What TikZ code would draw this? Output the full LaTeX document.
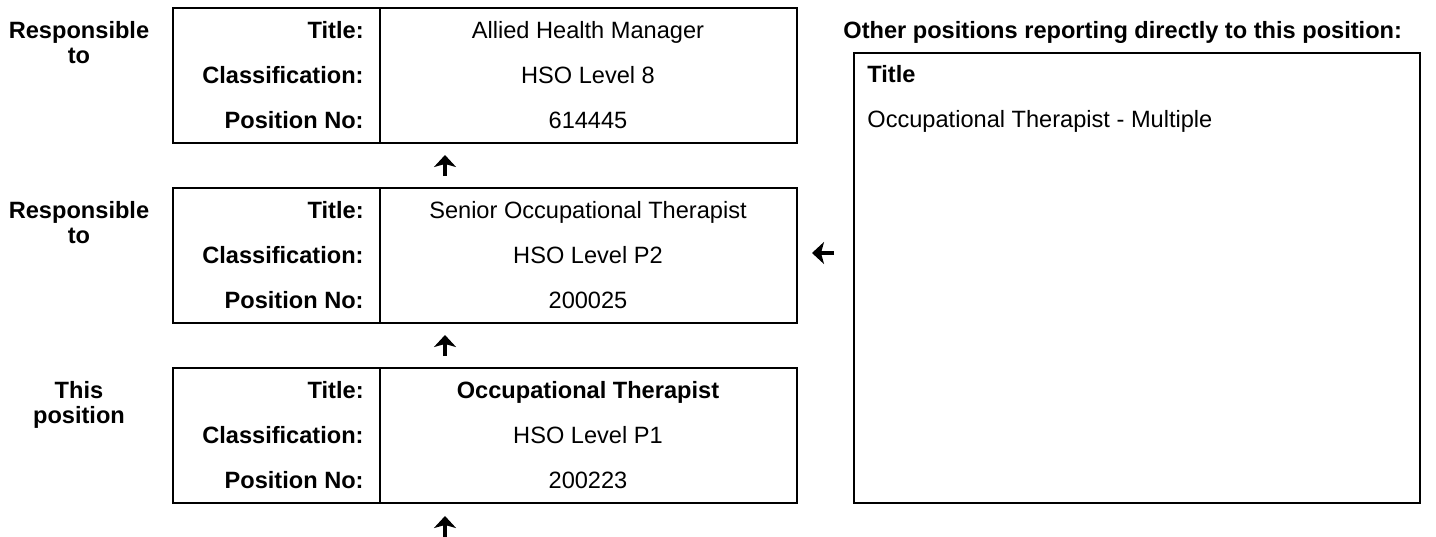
\documentclass[tikz,border=0pt]{standalone}
\usepackage{fontspec}
\setmainfont{Liberation Sans}
\usetikzlibrary{arrows.meta}

\newcommand{\chartfont}{\fontsize{11.8}{12.5}\selectfont}

\tikzset{
  frame/.style={draw, line width=1pt, inner sep=0pt, anchor=north west},
  side/.style={font=\chartfont\bfseries, align=center, anchor=north, inner sep=0pt},
  key/.style={font=\chartfont\bfseries, anchor=base east, inner sep=0pt},
  val/.style={font=\chartfont, anchor=base, inner sep=0pt},
  rptarrow/.style={-{Stealth[length=6pt,width=11pt,inset=1.5pt]}, line width=2.2pt}
}

\begin{document}
\begin{tikzpicture}[x=0.5pt,y=-0.5pt]
    \useasboundingbox (0,0) rectangle (1436,536);

    % Position boxes, one per level
    \foreach \i/\name/\side/\ttl/\cls/\pno in {
        0/mgr/{Responsible\\to}/{Allied Health Manager}/{HSO Level 8}/614445,
        1/senior/{Responsible\\to}/{Senior Occupational Therapist}/{HSO Level P2}/200025,
        2/self/{This\\position}/{\textbf{Occupational Therapist}}/{HSO Level P1}/200223}{
      \pgfmathsetmacro{\top}{7+180*\i}
      % Frame and divider
      \node[frame, minimum width=312pt, minimum height=67.5pt] (\name) at (172,\top) {};
      \draw[line width=1pt] ([xshift=104pt]\name.north west) -- ([xshift=104pt]\name.south west);
      % Text Node
      \node[side] (\name-side) at (79,\top+14) {\side};
      \node[key] (\name-tkey) at (364,\top+31) {Title:};
      \node[key] (\name-ckey) at (364,\top+76) {Classification:};
      \node[key] (\name-pkey) at (364,\top+121) {Position No:};
      \node[val] (\name-title) at (588,\top+31) {\ttl};
      \node[val] (\name-class) at (588,\top+76) {\cls};
      \node[val] (\name-pno) at (588,\top+121) {\pno};
    }

    % Reporting arrows
    \coordinate (ua1s) at (445,176); \coordinate (ua1e) at (445,155);
    \coordinate (ua2s) at (445,356); \coordinate (ua2e) at (445,335);
    \coordinate (ua3s) at (445,537); \coordinate (ua3e) at (445,516);
    \coordinate (las) at (834,253); \coordinate (lae) at (812,253);
    \draw[rptarrow] (ua1s) -- (ua1e);
    \draw[rptarrow] (ua2s) -- (ua2e);
    \draw[rptarrow] (ua3s) -- (ua3e);
    \draw[rptarrow] (las) -- (lae);

    % Other positions box
    \node[key, anchor=base west] (others-head) at (843,38) {Other positions reporting directly to this position:};
    \node[frame, minimum width=283pt, minimum height=225pt] (others) at (853,52) {};
    \node[key, anchor=base west] (others-title) at (867,82) {Title};
    \node[val, anchor=base west] (others-item) at (867,127) {Occupational Therapist - Multiple};
\end{tikzpicture}
\end{document}
